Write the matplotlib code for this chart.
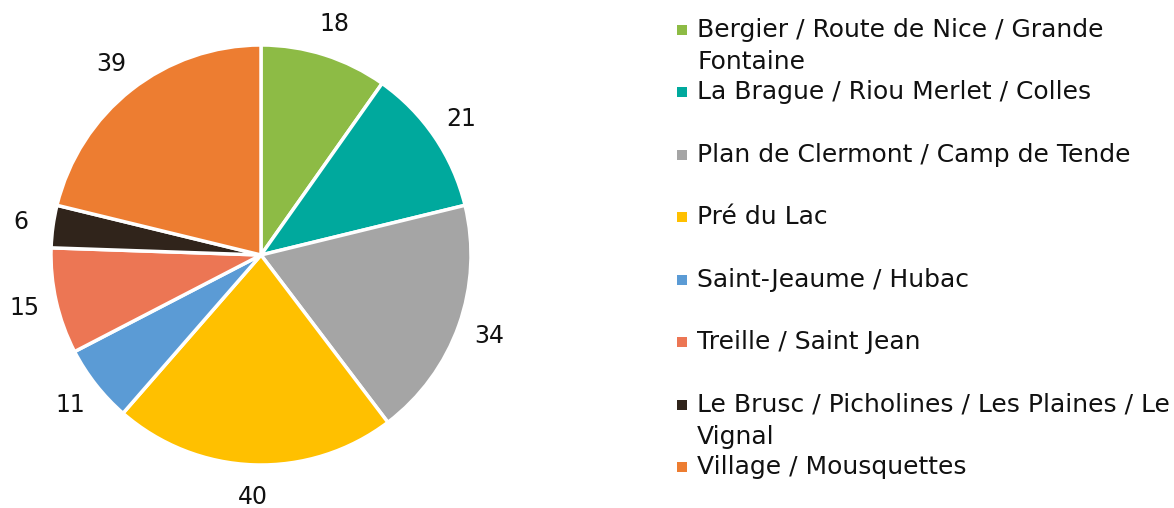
import matplotlib
matplotlib.use("Agg")
import matplotlib.pyplot as plt
from matplotlib.patches import Rectangle

categories = [
    "Bergier / Route de Nice / Grande\nFontaine",
    "La Brague / Riou Merlet / Colles",
    "Plan de Clermont / Camp de Tende",
    "Pré du Lac",
    "Saint-Jeaume / Hubac",
    "Treille / Saint Jean",
    "Le Brusc / Picholines / Les Plaines / Le\nVignal",
    "Village / Mousquettes",
]
values = [18, 21, 34, 40, 11, 15, 6, 39]
colors = ["#8DBB45", "#00A99D", "#A5A5A5", "#FFC000", "#5B9BD5", "#EC7654", "#30241B", "#ED7D31"]

FONT = "DejaVu Sans"
FS = 18
W, H = 1174, 508
fig = plt.figure(figsize=(W / 100, H / 100), dpi=100)

cx, cy, r = 261, 255, 210
ax = fig.add_axes([(cx - r) / W, (H - cy - r) / H, 2 * r / W, 2 * r / H])
wedges, texts = ax.pie(
    values, colors=colors, startangle=90, counterclock=False,
    labels=[str(v) for v in values], labeldistance=1.155,
    wedgeprops=dict(edgecolor="white", linewidth=2.5),
    textprops=dict(fontsize=17, family=FONT, color="#111111"),
)
for t in texts:
    t.set_ha("center")
    t.set_va("center")
ax.set_xlim(-1, 1)
ax.set_ylim(-1, 1)
ax.set_aspect("equal")
ax.axis("off")

# legend (manual)
ys = [30, 92, 155, 217, 280, 342, 405, 467]
for lab, col, y in zip(categories, colors, ys):
    fig.patches.append(Rectangle((677 / W, (H - y - 5) / H), 10 / W, 10 / H,
                                 transform=fig.transFigure, facecolor=col, edgecolor="none"))
    for i, line in enumerate(lab.split("\n")):
        fig.text(697 / W, (H - y - 32 * i) / H, line, fontsize=FS, family=FONT,
                 color="#111111", ha="left", va="center")

fig.savefig("out.png", dpi=100)
